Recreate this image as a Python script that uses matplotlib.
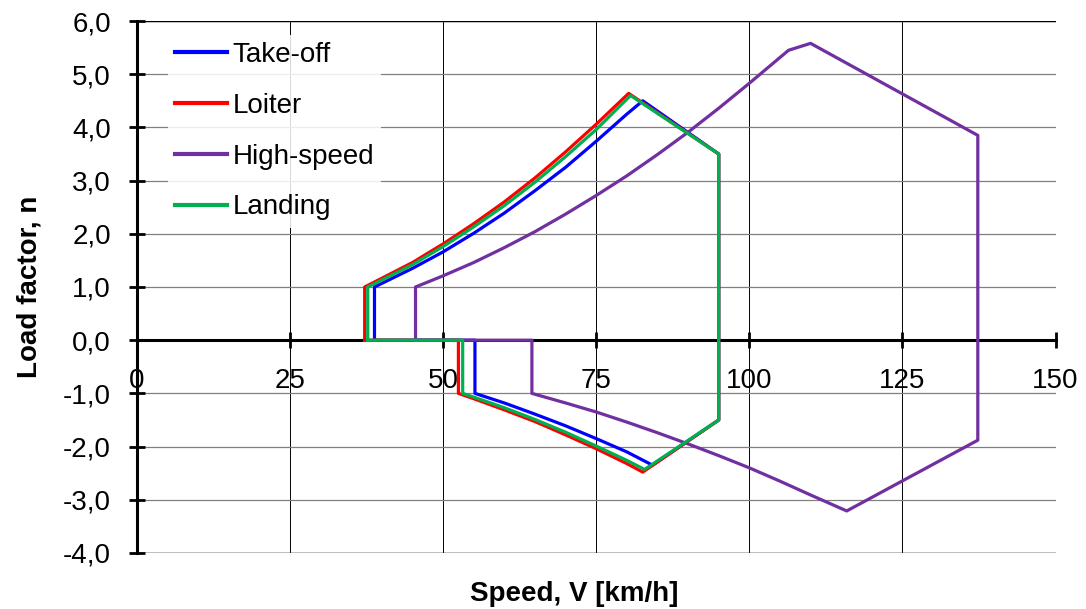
import matplotlib
matplotlib.use('Agg')
import matplotlib.pyplot as plt
from matplotlib.ticker import FuncFormatter

plt.rcParams['font.family'] = ['Liberation Sans', 'DejaVu Sans']

# V-n envelopes (V in km/h, n)
takeoff_v = [38.8, 38.8, 45, 50, 55, 60, 65, 70, 75, 80, 82.6, 95, 95, 84.2, 80, 75, 70, 65, 60, 55.2, 55.2, 38.8]
takeoff_n = [0, 1.0, 1.35, 1.66, 2.01, 2.39, 2.81, 3.25, 3.74, 4.25, 4.50, 3.5, -1.5, -2.35, -2.10, -1.85, -1.61, -1.39, -1.18, -1.0, 0, 0]

loiter_v = [37.2, 37.2, 45, 50, 55, 60, 65, 70, 75, 80.3, 95, 95, 82.6, 80, 75, 70, 65, 60, 55, 52.5, 52.5, 37.2]
loiter_n = [0, 1.0, 1.46, 1.81, 2.19, 2.60, 3.05, 3.54, 4.06, 4.64, 3.5, -1.5, -2.48, -2.32, -2.04, -1.78, -1.53, -1.31, -1.10, -1.0, 0, 0]

highspeed_v = [45.5, 45.5, 50, 55, 60, 65, 70, 75, 80, 85, 90, 95, 100, 106.4, 110, 137.3, 137.3, 115.9,
               110, 105, 100, 95, 90, 85, 80, 75, 70, 64.5, 64.5, 45.5]
highspeed_n = [0, 1.0, 1.21, 1.46, 1.74, 2.04, 2.37, 2.72, 3.09, 3.49, 3.91, 4.36, 4.83, 5.45, 5.58, 3.85, -1.88, -3.21,
               -2.91, -2.65, -2.40, -2.17, -1.95, -1.74, -1.54, -1.35, -1.18, -1.0, 0, 0]

landing_v = [37.7, 37.7, 45, 50, 55, 60, 65, 70, 75, 80.6, 95, 95, 82.9, 80, 75, 70, 65, 60, 55, 53.2, 53.2, 37.7]
landing_n = [0, 1.0, 1.42, 1.76, 2.13, 2.53, 2.97, 3.45, 3.96, 4.60, 3.5, -1.5, -2.43, -2.26, -1.99, -1.73, -1.49, -1.27, -1.07, -1.0, 0, 0]

x_ticks = [0, 25, 50, 75, 100, 125, 150]
y_ticks = [-4, -3, -2, -1, 0, 1, 2, 3, 4, 5, 6]

fig = plt.figure(figsize=(10.86, 6.09), dpi=100)
ax = fig.add_axes([0.126, 0.092, 0.846, 0.8735])

lw = 2.3
ax.plot(takeoff_v, takeoff_n, color='#0000FF', lw=lw, label='Take-off', zorder=3)
ax.plot(loiter_v, loiter_n, color='#FF0000', lw=lw, label='Loiter', zorder=3)
ax.plot(highspeed_v, highspeed_n, color='#7030A0', lw=lw, label='High-speed', zorder=3)
ax.plot(landing_v, landing_n, color='#00B050', lw=lw, label='Landing', zorder=3)

ax.set_xlim(0, 150)
ax.set_ylim(-4, 6)
ax.set_xticks(x_ticks)
ax.set_yticks(y_ticks)
ax.xaxis.set_major_formatter(FuncFormatter(lambda v, p: '%d' % v))
ax.yaxis.set_major_formatter(FuncFormatter(lambda v, p: ('%.1f' % v).replace('.', ',')))

# grid: gray horizontals, black verticals, black frame lines top/bottom
ax.yaxis.grid(True, color='#808080', lw=0.9)
ax.xaxis.grid(True, color='black', lw=0.7)
ax.axhline(6, color='black', lw=1.0, zorder=1)
ax.axhline(-4, color='black', lw=1.0, zorder=1)
ax.set_axisbelow(True)

for s in ['top', 'right']:
    ax.spines[s].set_visible(False)
ax.spines['bottom'].set_position(('data', 0))
ax.spines['bottom'].set_linewidth(2.2)
ax.spines['left'].set_linewidth(2.2)

ax.tick_params(axis='both', direction='inout', length=11.5, width=2.0, labelsize=20, color='black')
ax.tick_params(axis='x', pad=14)
ax.tick_params(axis='y', pad=13)

ax.set_xlabel('Speed, V [km/h]', fontsize=20, fontweight='bold')
ax.set_ylabel('Load factor, n', fontsize=20, fontweight='bold')
ax.xaxis.set_label_coords(0.476, -0.052)
ax.yaxis.set_label_coords(-0.103, 0.5)

leg = ax.legend(loc='upper left', bbox_to_anchor=(0.019, 1.0), fontsize=20, frameon=True,
                handlelength=1.85, handletextpad=0.2, labelspacing=0.89, borderpad=0.26,
                fancybox=False)
leg.get_frame().set_facecolor('white')
leg.get_frame().set_alpha(0.85)
leg.get_frame().set_edgecolor('none')
for line in leg.get_lines():
    line.set_linewidth(3.0)

fig.savefig('out.png', dpi=100)
